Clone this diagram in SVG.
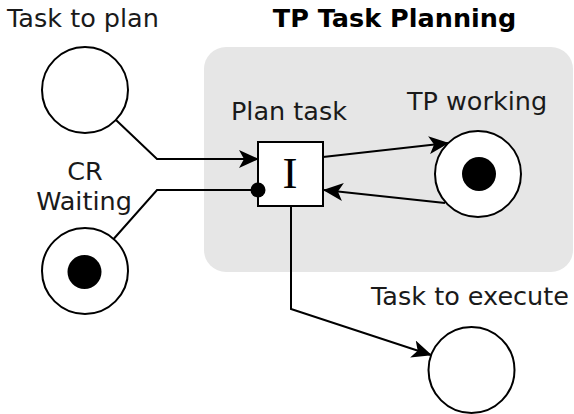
<svg xmlns="http://www.w3.org/2000/svg" width="574" height="414" viewBox="0 0 574 414">
  <style>
    .lbl { font-family: "DejaVu Sans", "Liberation Sans", sans-serif; font-size: 25.5px; fill: #1a1a1a; }
    .title { font-family: "DejaVu Sans", "Liberation Sans", sans-serif; font-size: 25.5px; font-weight: bold; fill: #000; }
    .place { fill: #fff; stroke: #000; stroke-width: 2; }
    .token { fill: #000; }
    .trans { fill: #fff; stroke: #000; stroke-width: 2; }
    .edge { fill: none; stroke: #000; stroke-width: 2; }
    .tlbl { font-family: "Liberation Serif", "DejaVu Serif", serif; font-size: 45px; fill: #000; }
  </style>
  <defs>
    <marker id="arrow" viewBox="0 0 20 18" refX="19" refY="9" markerWidth="20" markerHeight="18" markerUnits="userSpaceOnUse" orient="auto">
      <path d="M0,0 L20,9 L0,18 L5,9 Z" fill="#000"/>
    </marker>
  </defs>
  <rect id="container" x="204" y="47" width="369" height="225" rx="22" ry="22" fill="#e6e6e6"/>
  <text class="title" x="394.5" y="27" text-anchor="middle">TP Task Planning</text>

  <g id="task-to-plan">
    <circle class="place" cx="85" cy="90" r="43"/>
    <text class="lbl" x="7" y="27">Task to plan</text>
  </g>

  <g id="cr-waiting">
    <circle class="place" cx="85" cy="271" r="43"/>
    <circle class="token" cx="84.5" cy="272" r="17"/>
    <text class="lbl" x="85" y="180" text-anchor="middle">CR</text>
    <text class="lbl" x="84" y="210" text-anchor="middle">Waiting</text>
  </g>

  <g id="plan-task">
    <rect class="trans" x="258" y="142" width="65" height="64"/>
    <text class="tlbl" x="290" y="188" text-anchor="middle">I</text>
    <text class="lbl" x="289" y="120" text-anchor="middle">Plan task</text>
  </g>

  <g id="tp-working">
    <circle class="place" cx="478" cy="174" r="43"/>
    <circle class="token" cx="479" cy="174" r="17"/>
    <text class="lbl" x="477" y="110" text-anchor="middle">TP working</text>
  </g>

  <g id="task-to-execute">
    <circle class="place" cx="471.5" cy="370" r="43"/>
    <text class="lbl" x="470" y="305" text-anchor="middle">Task to execute</text>
  </g>

  <g id="connectors">
    <polyline class="edge" points="116,120 157,159 258,159" marker-end="url(#arrow)"/>
    <polyline class="edge" points="113.6,239 157,190 258,190"/>
    <circle cx="258" cy="190" r="7.5" fill="#000"/>
    <line class="edge" x1="323" y1="157" x2="448" y2="143" marker-end="url(#arrow)"/>
    <line class="edge" x1="445" y1="203" x2="324" y2="190" marker-end="url(#arrow)"/>
    <polyline class="edge" points="291,207 291,309 431,355" marker-end="url(#arrow)"/>
  </g>
</svg>
